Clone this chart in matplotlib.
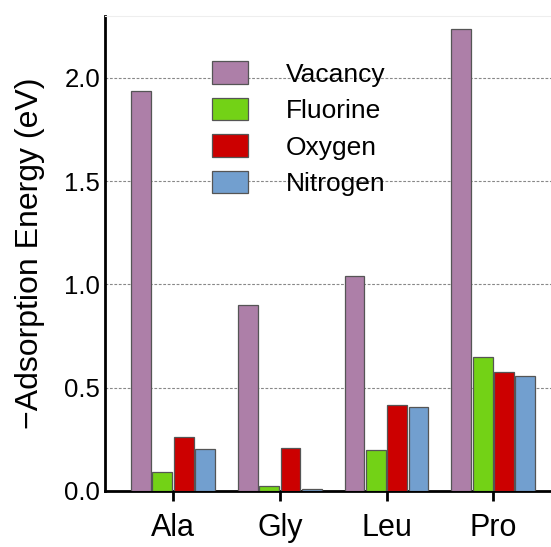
import matplotlib
matplotlib.use("Agg")
import matplotlib.pyplot as plt
import numpy as np

plt.rcParams["font.family"] = ["Liberation Sans", "DejaVu Sans"]

AMINO = ["Ala", "Gly", "Leu", "Pro"]
SERIES = ["Vacancy", "Fluorine", "Oxygen", "Nitrogen"]
VACANCY = [1.937, 0.902, 1.041, 2.237]
FLUORINE = [0.091, 0.024, 0.200, 0.649]
OXYGEN = [0.260, 0.207, 0.416, 0.575]
NITROGEN = [0.203, 0.010, 0.405, 0.555]
COLORS = ["#AD7FA8", "#73D216", "#CC0000", "#729FCF"]

fig = plt.figure(figsize=(5.51, 5.47), dpi=100)
ax = fig.add_axes([105 / 551, 56 / 547, 446 / 551, 475 / 547])

x = np.arange(len(AMINO))
width = 0.185
step = 0.2
values = [VACANCY, FLUORINE, OXYGEN, NITROGEN]
for i, (name, vals) in enumerate(zip(SERIES, values)):
    ax.bar(x + (i - 1.5) * step, vals, width, color=COLORS[i], edgecolor="#555555",
           linewidth=0.9, label=name, zorder=3)

ax.set_xlim(-0.637, 3.54)
ax.set_ylim(0, 2.3)
ax.set_xticks(x)
ax.set_xticklabels(AMINO, fontsize=22)
ax.set_yticks([0.0, 0.5, 1.0, 1.5, 2.0])
ax.set_yticklabels(["0.0", "0.5", "1.0", "1.5", "2.0"], fontsize=18.5)
ax.tick_params(axis="y", length=0, pad=3.5)
ax.tick_params(axis="x", length=7, width=2, pad=9)
ax.set_ylabel("\u2212Adsorption Energy (eV)", fontsize=23, labelpad=14)

# dashed grid lines behind the bars
for yv in [0.5, 1.0, 1.5, 2.0]:
    ax.axhline(yv, color="#888888", linestyle=(0, (2.5, 1.5)), linewidth=0.8, zorder=1)

ax.spines["left"].set_linewidth(2)
ax.spines["bottom"].set_linewidth(2)
ax.spines["top"].set_color("#eeeeee")
ax.spines["right"].set_visible(False)

ax.legend(loc="upper left", bbox_to_anchor=(0.24, 0.905), frameon=False, fontsize=19,
          handlelength=1.36, handleheight=0.95, handletextpad=1.44, labelspacing=0.42,
          borderpad=0, borderaxespad=0)

fig.savefig("out.png", dpi=100)
